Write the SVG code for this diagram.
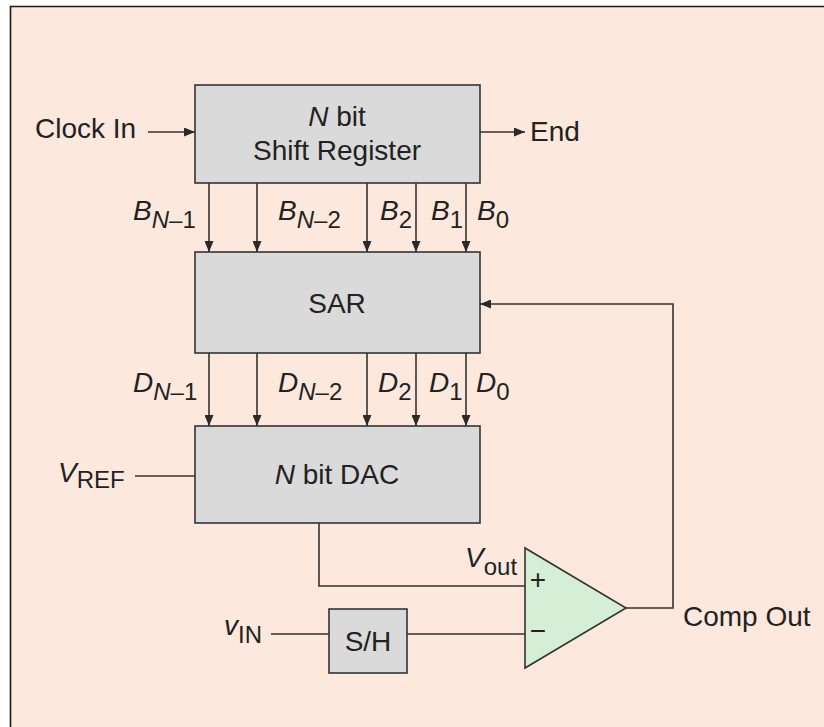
<svg xmlns="http://www.w3.org/2000/svg" width="824" height="727" viewBox="0 0 824 727">
<style>
.box{fill:#dadada;stroke:#333;stroke-width:1.6}
.w{fill:none;stroke:#333;stroke-width:1.6}
.t{font-family:"Liberation Sans",Arial,sans-serif;font-size:28px;fill:#222}
.i{font-style:italic}
.s{font-size:24px}
.m{text-anchor:middle}
</style>
<defs>
<marker id="ah" markerUnits="userSpaceOnUse" markerWidth="11" markerHeight="9" refX="11" refY="4.5" orient="auto">
<path d="M0,0 L11,4.5 L0,9 z" fill="#2a2a2a"/>
</marker>
</defs>
<rect x="0" y="0" width="824" height="727" fill="#ffffff"/>
<rect x="10.5" y="6.5" width="814" height="721" fill="#fce8dd"/>
<path d="M10.5,727 V6.5 H824" fill="none" stroke="#1e1612" stroke-width="1.6"/>

<g id="connectors">
<line class="w" x1="148" y1="132" x2="195" y2="132" marker-end="url(#ah)"/>
<line class="w" x1="480" y1="132" x2="525" y2="132" marker-end="url(#ah)"/>
<line class="w" x1="209" y1="183" x2="209" y2="252" marker-end="url(#ah)"/>
<line class="w" x1="257" y1="183" x2="257" y2="252" marker-end="url(#ah)"/>
<line class="w" x1="367" y1="183" x2="367" y2="252" marker-end="url(#ah)"/>
<line class="w" x1="416" y1="183" x2="416" y2="252" marker-end="url(#ah)"/>
<line class="w" x1="466" y1="183" x2="466" y2="252" marker-end="url(#ah)"/>
<line class="w" x1="209" y1="353" x2="209" y2="426" marker-end="url(#ah)"/>
<line class="w" x1="257" y1="353" x2="257" y2="426" marker-end="url(#ah)"/>
<line class="w" x1="367" y1="353" x2="367" y2="426" marker-end="url(#ah)"/>
<line class="w" x1="416" y1="353" x2="416" y2="426" marker-end="url(#ah)"/>
<line class="w" x1="466" y1="353" x2="466" y2="426" marker-end="url(#ah)"/>
<line class="w" x1="135" y1="476" x2="195" y2="476"/>
<polyline class="w" points="319,523 319,586 525,586"/>
<line class="w" x1="271" y1="634" x2="329" y2="634"/>
<line class="w" x1="407" y1="634" x2="525" y2="634"/>
<polyline class="w" points="626,608 673,608 673,304 480,304" marker-end="url(#ah)"/>
</g>

<g id="shift-register">
<rect class="box" x="195" y="85" width="285" height="98"/>
<text class="t m" x="337" y="126"><tspan class="i">N</tspan> bit</text>
<text class="t m" x="337" y="160">Shift Register</text>
</g>

<g id="sar">
<rect class="box" x="195" y="252" width="285" height="101"/>
<text class="t m" x="337" y="313">SAR</text>
</g>

<g id="dac">
<rect class="box" x="195" y="426" width="285" height="97"/>
<text class="t m" x="337" y="484"><tspan class="i">N</tspan> bit DAC</text>
</g>

<g id="comparator">
<polygon points="525,548 525,668 626,608" fill="#d5eed6" stroke="#333" stroke-width="1.6"/>
<text class="t m" x="538" y="589">+</text>
<text class="t m" x="538" y="640">−</text>
</g>

<g id="sample-hold">
<rect class="box" x="329" y="609" width="78" height="64"/>
<text class="t m" x="368" y="651">S/H</text>
</g>

<g id="labels">
<text class="t" x="35" y="138">Clock In</text>
<text class="t" x="530" y="141">End</text>
<text class="t" x="133" y="220"><tspan class="i">B</tspan><tspan class="s i" dy="8">N</tspan><tspan class="s">–1</tspan></text>
<text class="t" x="278" y="220"><tspan class="i">B</tspan><tspan class="s i" dy="8">N</tspan><tspan class="s">–2</tspan></text>
<text class="t" x="380" y="220"><tspan class="i">B</tspan><tspan class="s" dy="8">2</tspan></text>
<text class="t" x="431" y="220"><tspan class="i">B</tspan><tspan class="s" dy="8">1</tspan></text>
<text class="t" x="477" y="220"><tspan class="i">B</tspan><tspan class="s" dy="8">0</tspan></text>
<text class="t" x="133" y="392"><tspan class="i">D</tspan><tspan class="s i" dy="8">N</tspan><tspan class="s">–1</tspan></text>
<text class="t" x="278" y="392"><tspan class="i">D</tspan><tspan class="s i" dy="8">N</tspan><tspan class="s">–2</tspan></text>
<text class="t" x="378" y="392"><tspan class="i">D</tspan><tspan class="s" dy="8">2</tspan></text>
<text class="t" x="429" y="392"><tspan class="i">D</tspan><tspan class="s" dy="8">1</tspan></text>
<text class="t" x="476" y="392"><tspan class="i">D</tspan><tspan class="s" dy="8">0</tspan></text>
<text class="t" x="58" y="482"><tspan class="i">V</tspan><tspan class="s" dy="6">REF</tspan></text>
<text class="t" x="465" y="567"><tspan class="i">V</tspan><tspan class="s" dy="8">out</tspan></text>
<text class="t" x="224" y="635"><tspan class="i">v</tspan><tspan class="s" dy="8">IN</tspan></text>
<text class="t" x="683" y="626">Comp Out</text>
</g>
</svg>
